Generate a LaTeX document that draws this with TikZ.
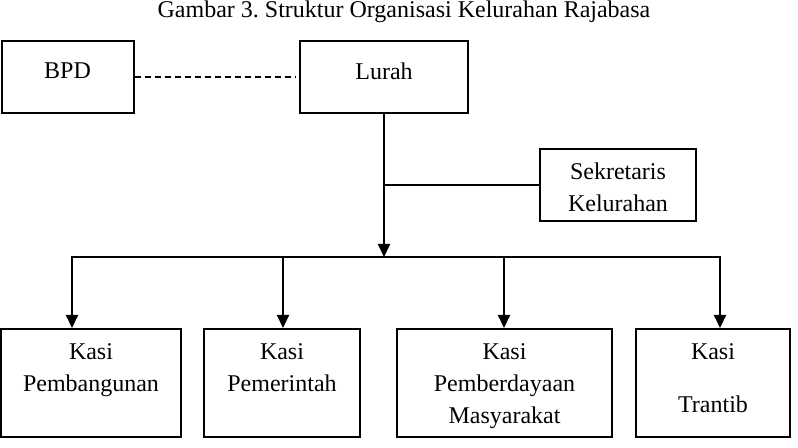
\documentclass[tikz,border=0pt]{standalone}
\usepackage{fontspec}
\setmainfont{Liberation Serif}
\usetikzlibrary{arrows.meta}
\frenchspacing
\begin{document}
\begin{tikzpicture}[x=0.5pt,y=-0.5pt,line width=1pt,
    font=\fontsize{12}{16}\selectfont,
    kotak/.style 2 args={draw,inner sep=0pt,minimum width=#1,minimum height=#2},
    isi/.style={anchor=north,inner sep=0pt,align=center},
    panah/.style={-{Triangle[width=6pt,length=6.5pt]}}]
    \useasboundingbox (0,0) rectangle (798,448);
    \node (judul) at (404,12) {Gambar 3. Struktur Organisasi Kelurahan Rajabasa};
    \node[kotak={66pt}{36pt},label={[isi,yshift=-11pt]north:BPD}] (bpd) at (67.5,77) {};
    \node[kotak={84pt}{36pt},label={[isi,yshift=-11pt]north:Lurah}] (lurah) at (384,77) {};
    \node[kotak={78pt}{36pt},label={[isi,yshift=-7pt]north:Sekretaris\\Kelurahan}] (sekretaris) at (618,185) {};
    \node[kotak={90pt}{54pt},label={[isi,yshift=-7.5pt]north:Kasi\\Pembangunan}] (pembangunan) at (91,383) {};
    \node[kotak={78pt}{54pt},label={[isi,yshift=-7.5pt]north:Kasi\\Pemerintah}] (pemerintah) at (282,383) {};
    \node[kotak={107.5pt}{54pt},label={[isi,yshift=-7.5pt]north:Kasi\\Pemberdayaan\\Masyarakat}] (pemberdayaan) at (504.5,383) {};
    \node[kotak={77pt}{54pt},label={[isi,yshift=-7.5pt]north:Kasi\\[10.5pt]Trantib}] (trantib) at (713,383) {};
    \coordinate (c1) at (72,257);
    \coordinate (c2) at (283,257);
    \coordinate (c3) at (504,257);
    \coordinate (c4) at (720,257);
    \draw[dash pattern=on 3pt off 2pt] (bpd.east) -- ([xshift=-2pt]lurah.west);
    \draw[panah] (lurah.south) -- (lurah.south |- c1);
    \draw (lurah.south |- sekretaris.west) -- (sekretaris.west);
    \draw[line cap=rect] (c1) -- (c4);
    \foreach \c/\k in {c1/pembangunan,c2/pemerintah,c3/pemberdayaan,c4/trantib}
      \draw[panah] (\c) -- (\c |- \k.north);
  \end{tikzpicture}
\end{document}
